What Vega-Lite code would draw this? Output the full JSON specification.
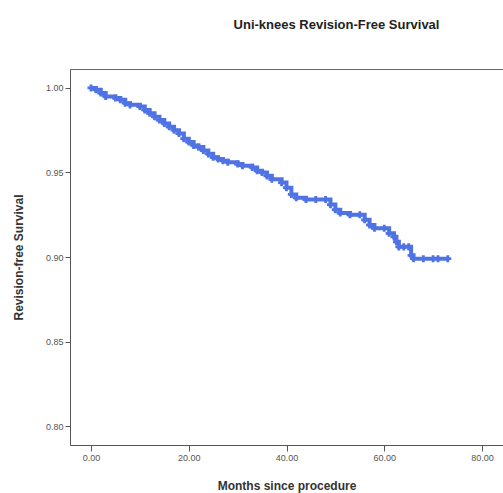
{
"$schema":"https://vega.github.io/schema/vega-lite/v6.json",
"width":433,"height":376,
"autosize":{"type":"none"},
"padding":{"left":70,"top":69,"right":0,"bottom":48},
"background":"white",
"title":{"text":"Uni-knees Revision-Free Survival","font":"Liberation Sans","fontSize":13,"fontWeight":"bold","color":"#222","dx":50,"offset":37},
"data":{"values":[
{"m":0,"s":1.0},{"m":1,"s":0.999},{"m":2,"s":0.997},{"m":3,"s":0.995},{"m":5,"s":0.994},{"m":6,"s":0.993},{"m":7,"s":0.991},{"m":8,"s":0.990},{"m":10,"s":0.989},{"m":11,"s":0.987},{"m":12,"s":0.985},{"m":13,"s":0.983},{"m":14,"s":0.981},{"m":15,"s":0.979},{"m":16,"s":0.977},{"m":17,"s":0.975},{"m":18,"s":0.973},{"m":19,"s":0.970},{"m":20,"s":0.968},{"m":21,"s":0.966},{"m":22,"s":0.965},{"m":23,"s":0.963},{"m":24,"s":0.961},{"m":25,"s":0.959},{"m":26,"s":0.958},{"m":27,"s":0.957},{"m":28,"s":0.956},{"m":30,"s":0.955},{"m":31,"s":0.954},{"m":33,"s":0.953},{"m":34,"s":0.951},{"m":35,"s":0.950},{"m":36,"s":0.948},{"m":37,"s":0.946},{"m":39,"s":0.944},{"m":40,"s":0.941},{"m":41,"s":0.937},{"m":42,"s":0.935},{"m":44,"s":0.934},{"m":46,"s":0.934},{"m":48,"s":0.934},{"m":49,"s":0.931},{"m":50,"s":0.928},{"m":51,"s":0.926},{"m":53,"s":0.925},{"m":55,"s":0.925},{"m":56,"s":0.922},{"m":57,"s":0.919},{"m":58,"s":0.917},{"m":60,"s":0.917},{"m":61,"s":0.914},{"m":62,"s":0.912},{"m":62.5,"s":0.909},{"m":63,"s":0.906},{"m":64,"s":0.906},{"m":65,"s":0.906},{"m":65.5,"s":0.901},{"m":66,"s":0.899},{"m":68,"s":0.899},{"m":70,"s":0.899},{"m":71,"s":0.899},{"m":73,"s":0.899}
]},
"encoding":{
"x":{"field":"m","type":"quantitative","scale":{"domain":[-4.3,84.3],"nice":false,"zero":false},
"axis":{"title":"Months since procedure","values":[0,20,40,60,80],"format":".2f","grid":false,"labelFont":"Liberation Sans","labelFontSize":9,"labelColor":"#555","titleFont":"Liberation Sans","titleFontSize":12,"titleColor":"#333","titlePadding":18,"tickColor":"#555","domainColor":"#555","tickSize":6}},
"y":{"field":"s","type":"quantitative","scale":{"domain":[0.7888,1.0112],"nice":false,"zero":false},
"axis":{"title":"Revision-free Survival","values":[0.8,0.85,0.9,0.95,1.0],"format":".2f","grid":false,"labelFont":"Liberation Sans","labelFontSize":9,"labelColor":"#555","titleFont":"Liberation Sans","titleFontSize":12,"titleColor":"#333","titlePadding":20,"tickColor":"#555","domainColor":"#555","tickSize":5}}
},
"layer":[
{"mark":{"type":"line","interpolate":"step-after","color":"#4f73e3","strokeWidth":4}},
{"mark":{"type":"point","shape":"cross","filled":true,"color":"#4f73e3","size":50,"opacity":1}}
],
"config":{"view":{"stroke":"#666","strokeWidth":1}}
}
